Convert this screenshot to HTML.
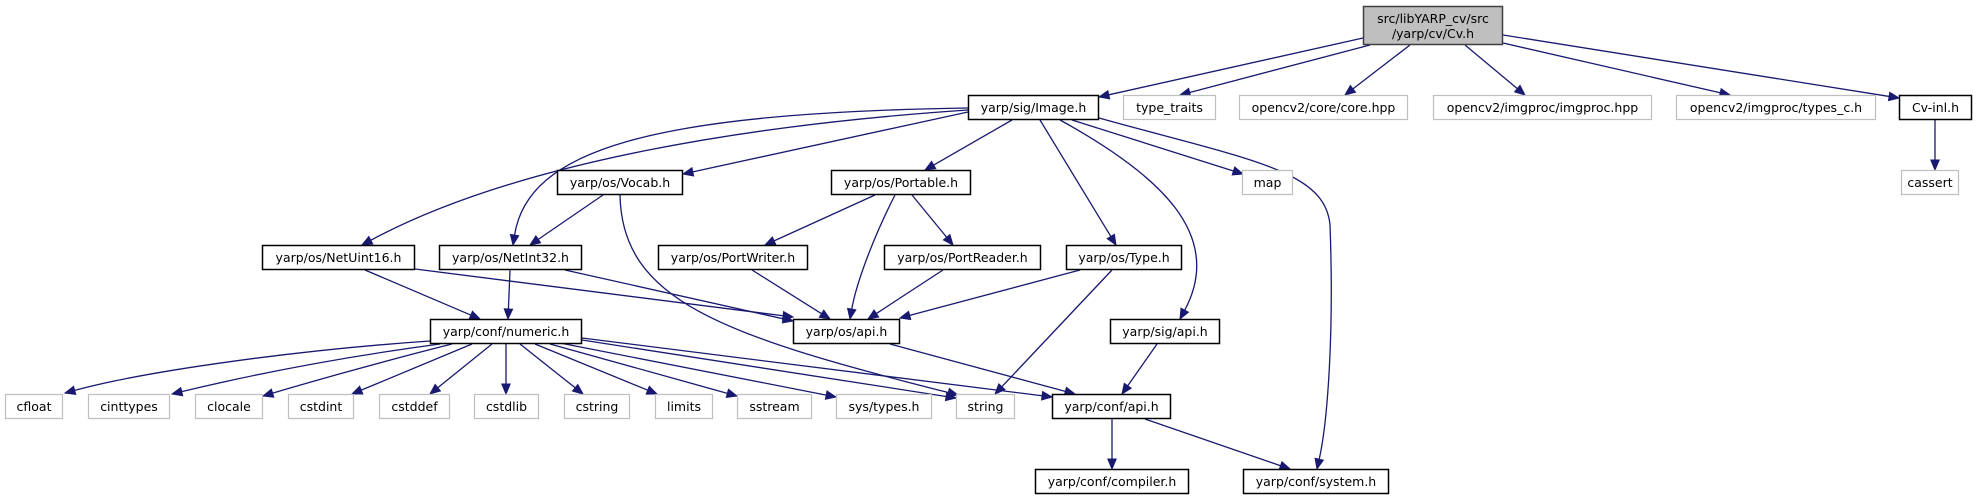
<!DOCTYPE html>
<html><head><meta charset="utf-8"><title>Cv.h include graph</title>
<style>
html,body{margin:0;padding:0;background:#fff;}
svg{display:block;}
text{font-family:"DejaVu Sans","Liberation Sans",sans-serif;font-size:12.5px;fill:#000;}
</style></head>
<body>
<svg id="g" width="1977" height="500" viewBox="0 0 1977 500" xmlns="http://www.w3.org/2000/svg">
<g id="edges"></g>
<g id="nodes"></g>
</svg>
<script>
// nodes: [label, x1, x2, y1, y2, style]  style: r=root, b=black (documented), g=gray (external)
const nodeLabels = ["src/libYARP_cv/src\n/yarp/cv/Cv.h","yarp/sig/Image.h","type_traits","opencv2/core/core.hpp","opencv2/imgproc/imgproc.hpp","opencv2/imgproc/types_c.h","Cv-inl.h","cassert","yarp/os/Vocab.h","yarp/os/Portable.h","map","yarp/os/NetUint16.h","yarp/os/NetInt32.h","yarp/os/PortWriter.h","yarp/os/PortReader.h","yarp/os/Type.h","yarp/conf/numeric.h","yarp/os/api.h","yarp/sig/api.h","cfloat","cinttypes","clocale","cstdint","cstddef","cstdlib","cstring","limits","sstream","sys/types.h","string","yarp/conf/api.h","yarp/conf/compiler.h","yarp/conf/system.h"];
const nodeX1 = [1363,968,1123,1239,1433,1676,1899,1901,557,831,1242,262,439,658,884,1066,430,793,1110,5,88,195,288,379,474,564,655,737,836,956,1052,1035,1243];
const nodeX2 = [1503,1099,1216,1408,1652,1876,1972,1959,683,971,1293,415,582,808,1041,1182,582,900,1220,63,170,263,354,450,539,630,713,812,932,1015,1171,1189,1389];
const nodeY1 = [6,95,95,95,95,95,95,170,170,170,170,245,245,245,245,245,319,319,319,394,394,394,394,394,394,394,394,394,394,394,394,469,469];
const nodeStyle = ["r","b","g","g","g","g","b","g","b","b","g","b","b","b","b","b","b","b","b","g","g","g","g","g","g","g","g","g","g","g","b","b","b"];

// edges: point lists (2 = straight, 4/7 = cubic bezier segments)
const edgePts = [
 [1363,38, 1099,97],
 [1370,45, 1180,95],
 [1410,45, 1345,95],
 [1465,45, 1525,95],
 [1503,43, 1730,95],
 [1503,35, 1899,98],
 [1935,120, 1935,170],
 [968,112, 683,174],
 [1012,120, 925,170],
 [1040,120, 1116,245],
 [1060,120, 1160,175, 1225,235, 1180,319],
 [1072,120, 1243,174],
 [1099,118, 1250,160, 1325,170, 1330,225, 1334,330, 1328,420, 1317,469],
 [968,108, 650,113, 528,150, 513,245],
 [968,110, 760,124, 520,160, 362,245],
 [603,195, 530,245],
 [620,195, 622,300, 720,335, 958,395],
 [875,195, 765,245],
 [895,195, 872,240, 856,285, 850,319],
 [912,195, 953,245],
 [365,270, 480,319],
 [415,269, 793,317],
 [510,270, 508,319],
 [565,270, 793,321],
 [752,270, 830,319],
 [943,270, 868,319],
 [1080,270, 900,318],
 [1112,270, 995,394],
 [1157,344, 1122,394],
 [890,344, 1075,394],
 [1112,419, 1112,469],
 [1145,419, 1290,469],
 [430,341, 300,350, 150,370, 65,393],
 [440,344, 320,360, 230,380, 172,394],
 [452,344, 380,362, 300,385, 263,396],
 [472,344, 352,394],
 [492,344, 430,394],
 [506,344, 506,394],
 [520,344, 583,394],
 [535,344, 657,394],
 [550,344, 737,396],
 [560,343, 836,397],
 [582,340, 956,398],
 [582,338, 1052,397]
];
const edgeSrc = [0,0,0,0,0,0,6,1,1,1,1,1,1,1,1,8,8,9,9,9,11,11,12,12,13,14,15,15,18,17,30,30,16,16,16,16,16,16,16,16,16,16,16,16];

const NS="http://www.w3.org/2000/svg";
const eg=document.getElementById('edges'), ng=document.getElementById('nodes');
const col="#191970";
edgePts.forEach((p,i)=>{
  const n=p.length/2;
  const tx=p[2*n-2], ty=p[2*n-1], px=p[2*n-4], py=p[2*n-3];
  let dx=tx-px, dy=ty-py; const L=Math.hypot(dx,dy)||1; dx/=L; dy/=L;
  const bx=tx-dx*10, by=ty-dy*10;
  let d="M"+p[0]+","+p[1];
  if(n===2){ d+=" L"+bx+","+by; }
  else {
    for(let k=1;k<n;k+=3){
      const last=(k+2===n-1);
      d+=" C"+p[2*k]+","+p[2*k+1]+" "+p[2*k+2]+","+p[2*k+3]+" "+(last?bx:p[2*k+4])+","+(last?by:p[2*k+5]);
    }
  }
  const path=document.createElementNS(NS,'path');
  path.setAttribute('d',d);path.setAttribute('fill','none');path.setAttribute('stroke',col);path.setAttribute('stroke-width','1.3');
  
  
  eg.appendChild(path);
  const ox=-dy*4.2, oy=dx*4.2;
  const tri=document.createElementNS(NS,'polygon');
  tri.setAttribute('points',tx+","+ty+" "+(bx+ox)+","+(by+oy)+" "+(bx-ox)+","+(by-oy));
  tri.setAttribute('fill',col);tri.setAttribute('stroke',col);
  
  
  eg.appendChild(tri);
});
nodeLabels.forEach((lab,i)=>{
  const g=document.createElementNS(NS,'g');
  
  
  const x1=nodeX1[i], x2=nodeX2[i], y1=nodeY1[i];
  const y2 = nodeStyle[i]==='r' ? 45 : y1+25;
  const r=document.createElementNS(NS,'rect');
  r.setAttribute('x',x1+0.5);r.setAttribute('y',y1+0.5);r.setAttribute('width',x2-x1-1);r.setAttribute('height',y2-y1-1);
  const st=nodeStyle[i];
  r.setAttribute('fill',st==='r'?'#bfbfbf':'#fff');
  r.setAttribute('stroke',st==='g'?'#bfbfbf':(st==='r'?'#404040':'#000'));
  r.setAttribute('stroke-width',st==='g'?'1.2':'1.5');
  g.appendChild(r);
  const lines=lab.split('\n');
  lines.forEach((ln,k)=>{
    const t=document.createElementNS(NS,'text');
    t.setAttribute('x',(x1+x2)/2);
    t.setAttribute('y', lines.length===1 ? y1+17 : y1+17+k*15);
    t.setAttribute('text-anchor','middle');
    t.textContent=ln;
    g.appendChild(t);
  });
  ng.appendChild(g);
});
</script>
</body></html>
